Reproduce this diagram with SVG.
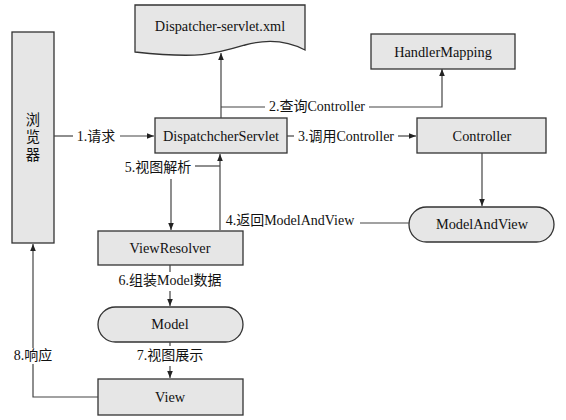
<svg xmlns="http://www.w3.org/2000/svg" width="566" height="420" viewBox="0 0 566 420">
<defs>
<marker id="arr" viewBox="0 0 10 10" refX="10" refY="5" markerWidth="7" markerHeight="7" markerUnits="userSpaceOnUse" orient="auto">
<path d="M0,1 L10,5 L0,9 Z" fill="#222"/>
</marker>
<style>
.box{fill:#e6e6e6;stroke:#333;stroke-width:1.3}
.t{font-family:"Liberation Serif","Noto Sans CJK SC",serif;font-size:14.3px;fill:#111;text-anchor:middle}
.l{font-family:"Liberation Serif","Noto Sans CJK SC",serif;font-size:14px;fill:#111;text-anchor:middle}
.c{fill:none;stroke:#444;stroke-width:1.2}
</style>
</defs>
<rect width="566" height="420" fill="#fff"/>
<g id="browser"><rect class="box" x="12" y="32" width="42" height="211"/>
<text class="t" x="33" y="125">浏</text><text class="t" x="33" y="142">览</text><text class="t" x="33" y="160">器</text></g>
<g id="dispatcher-xml"><path class="box" d="M135,5 H305 V50 C290,42 270,38 245,45 C215,54 200,59 135,52 Z"/>
<text class="t" x="220" y="31">Dispatcher-servlet.xml</text></g>
<g id="handlermapping"><rect class="box" x="371" y="34" width="144" height="35"/><text class="t" x="443" y="57">HandlerMapping</text></g>
<g id="dispatcherservlet"><rect class="box" x="155" y="118" width="132" height="35"/><text class="t" x="221" y="141">DispatchcherServlet</text></g>
<g id="controller"><rect class="box" x="417" y="118" width="129" height="35"/><text class="t" x="482" y="141">Controller</text></g>
<g id="modelandview"><rect class="box" x="409" y="207" width="145" height="35" rx="17.5"/><text class="t" x="482" y="229">ModelAndView</text></g>
<g id="viewresolver"><rect class="box" x="98" y="231" width="145" height="34"/><text class="t" x="170" y="253">ViewResolver</text></g>
<g id="model"><rect class="box" x="98" y="307" width="145" height="35" rx="17.5"/><text class="t" x="170" y="329">Model</text></g>
<g id="view"><rect class="box" x="98" y="379" width="145" height="36"/><text class="t" x="170" y="402">View</text></g>
<g id="connectors">
<path class="c" d="M54,136 H73"/><path class="c" d="M120,136 H154" marker-end="url(#arr)"/>
<text class="l" x="96" y="141">1.请求</text>
<path class="c" d="M221,118 V53" marker-end="url(#arr)"/>
<path class="c" d="M221,107 H265"/><path class="c" d="M369,107 H442 V69" marker-end="url(#arr)"/>
<text class="l" x="317" y="111">2.查询Controller</text>
<path class="c" d="M287,136 H294"/><path class="c" d="M398,136 H416" marker-end="url(#arr)"/>
<text class="l" x="346" y="141">3.调用Controller</text>
<path class="c" d="M482,153 V206" marker-end="url(#arr)"/>
<path class="c" d="M409,223 H360"/><path class="c" d="M220,230 V154" marker-end="url(#arr)"/>
<text class="l" x="290" y="225">4.返回ModelAndView</text>
<path class="c" d="M220,166 H195"/><path class="c" d="M171,179 V230" marker-end="url(#arr)"/>
<text class="l" x="158" y="172">5.视图解析</text>
<path class="c" d="M170,265 V272"/><path class="c" d="M170,291 V306" marker-end="url(#arr)"/>
<text class="l" x="170" y="285">6.组装Model数据</text>
<path class="c" d="M170,342 V346"/><path class="c" d="M170,366 V378" marker-end="url(#arr)"/>
<text class="l" x="170" y="360">7.视图展示</text>
<path class="c" d="M98,397 H33 V364"/><path class="c" d="M33,348 V244" marker-end="url(#arr)"/>
<text class="l" x="33" y="360">8.响应</text>
</g>
</svg>
